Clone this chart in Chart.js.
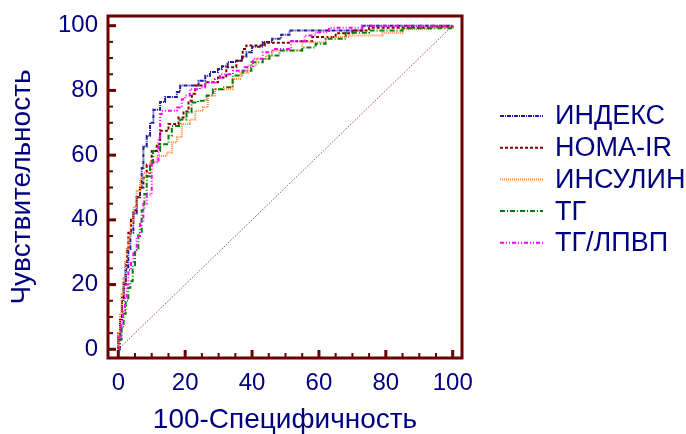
<!DOCTYPE html>
<html>
<head>
<meta charset="utf-8">
<script src="https://cdn.jsdelivr.net/npm/chart.js@4.4.0/dist/chart.umd.min.js"></script>
<style>
  html, body { margin: 0; padding: 0; background: #fff; }
  #wrap { width: 686px; height: 434px; }
</style>
</head>
<body>
<div id="wrap"><canvas id="rocChart" width="686" height="434"></canvas></div>
<script>
// ROC curves: 100-specificity (x) vs sensitivity (y)
const seriesLabels = ['ИНДЕКС', 'HOMA-IR', 'ИНСУЛИН', 'ТГ', 'ТГ/ЛПВП'];

const indexFpr = [0, 0, 0.6, 1.1, 1.6, 2.2, 3, 3.6, 4.5, 5.5, 6.5, 7, 7.5, 8.5, 9.5, 10.5, 12.5, 14, 17.5, 18.5, 24, 26, 27.4, 29.8, 31, 32.7, 35.3, 37, 38.3, 40, 43.2, 46, 48.7, 51.2, 73, 100];
const indexTpr = [0, 4, 9, 15, 20, 25, 31, 36, 42, 47, 50, 56, 62.7, 66, 70, 74, 76.4, 78, 79.5, 81.5, 83, 84.5, 85.7, 86.6, 87.5, 88.8, 89.2, 90.5, 91.8, 93.5, 95, 96, 97.2, 98.5, 100, 100];

const homaFpr = [0, 0, 0.5, 1.1, 1.6, 2.2, 2.6, 3, 3.8, 4.5, 5.5, 6.5, 7.5, 8.5, 10, 11.5, 12.5, 15, 18, 19.5, 21, 22, 23, 26, 29.8, 32.3, 35.3, 37.2, 38.3, 43.8, 51.7, 58, 65, 70, 75, 93.4, 100];
const homaTpr = [0, 5, 10, 16, 21, 26, 30.7, 36, 40, 43, 47, 50, 53, 57, 61.3, 63.4, 67.5, 69.6, 71.6, 73.5, 76.8, 79, 81.5, 82.5, 84, 87.2, 89.2, 92.8, 93.9, 94.7, 95.2, 96.5, 97.7, 98.5, 99.4, 99.7, 100];

const insulinFpr = [0, 0, 0.5, 1, 1.5, 2, 2.5, 3, 3.6, 4.5, 5.5, 6.5, 7.5, 9.5, 11.5, 14.5, 16, 17.5, 19, 21.4, 23, 25.3, 26.8, 28.9, 34.2, 36.5, 38.7, 41.3, 44.2, 46.1, 55, 62, 69, 79, 85, 93.4, 100];
const insulinTpr = [0, 5, 11, 17, 22, 27, 31, 35, 39, 44, 49, 52.5, 54.5, 58, 59.7, 60.8, 64, 65.5, 69.6, 71, 73.7, 74.8, 78.4, 80.4, 83.5, 85.5, 87.7, 89.8, 90.8, 92.3, 94.9, 96.5, 97, 97.8, 99, 99.4, 100];

const tgFpr = [0, 0.5, 1, 1.6, 2.2, 3, 3.6, 4.3, 5, 6, 7, 7.8, 8.5, 9.5, 10.4, 12.5, 15, 16, 18.5, 20.4, 21.9, 23.8, 26.4, 28.3, 31.3, 34.2, 37.2, 39.8, 43.2, 45.2, 48.2, 55, 59, 62, 68, 75, 85, 100];
const tgTpr = [0, 3, 7, 11, 15, 19, 21, 26, 30.7, 36, 43, 48, 53.5, 57, 61.3, 63.4, 66, 69, 71, 73.2, 76.3, 76.8, 78.4, 80.4, 81, 84.6, 86.1, 88.7, 89.8, 90.8, 92.3, 93.3, 94.4, 96, 97.8, 98.5, 99.2, 100];

const tgHdlFpr = [0, 0.4, 0.9, 1.4, 2, 2.5, 3, 3.8, 4.5, 5.5, 6.5, 7.5, 8.5, 10, 12, 12.5, 13, 17.5, 19, 20, 21.4, 24.4, 25.9, 28.9, 30.4, 34.3, 37.8, 40.3, 43.2, 46.2, 51.7, 55.7, 59, 63, 73, 100];
const tgHdlTpr = [0, 4, 8, 12, 16, 20, 24.5, 27, 30, 35, 39.5, 45, 47.8, 57.7, 65.4, 72.7, 73.7, 74.7, 77.3, 78.4, 80.4, 80.9, 82.5, 83.5, 85, 86.1, 87.2, 89.8, 91.8, 92.8, 95.2, 97, 98, 99.4, 100, 100];

const chanceLine = [0, 100];
const tickValues = [0, 20, 40, 60, 80, 100];

const navy = '#000080';
const frameColor = '#6b0000';
const font = 'Liberation Sans, Arial, sans-serif';

function toPoints(xs, ys) {
    return xs.map((x, i) => ({ x: x, y: ys[i] }));
}

function rocSet(label, xs, ys, color, dash) {
    return {
        label: label,
        data: toPoints(xs, ys),
        borderColor: color,
        borderWidth: 2,
        borderDash: dash,
        stepped: true,
        pointRadius: 0,
        fill: false
    };
}

const datasets = [
    {
        label: '',
        data: toPoints(chanceLine, chanceLine),
        borderColor: '#902828',
        borderWidth: 1,
        borderDash: [1, 1.5],
        pointRadius: 0,
        fill: false
    },
    rocSet(seriesLabels[4], tgHdlFpr, tgHdlTpr, '#ff00ff', [4, 2, 1, 2, 1, 2]),
    rocSet(seriesLabels[3], tgFpr, tgTpr, '#008000', [5, 2, 1, 2]),
    rocSet(seriesLabels[2], insulinFpr, insulinTpr, '#ff8c40', [1, 1]),
    rocSet(seriesLabels[1], homaFpr, homaTpr, '#800000', [3, 2]),
    rocSet(seriesLabels[0], indexFpr, indexTpr, '#1c1c9c', [4, 1, 1, 1])
];

// frame with inward ticks, plus the legend at the right
const framePlugin = {
    id: 'frame',
    afterDatasetsDraw(chart) {
        const { ctx, chartArea: a, scales: { x, y } } = chart;
        ctx.save();
        ctx.strokeStyle = frameColor;
        for (let v = 0; v <= 100; v += 5) {
            const major = v % 20 === 0;
            const len = major ? 8 : 5;
            ctx.lineWidth = major ? 3 : 2;
            const py = y.getPixelForValue(v);
            ctx.beginPath();
            ctx.moveTo(a.left, py);
            ctx.lineTo(a.left + len, py);
            ctx.stroke();
            const px = x.getPixelForValue(v);
            ctx.beginPath();
            ctx.moveTo(px, a.bottom);
            ctx.lineTo(px, a.bottom - len);
            ctx.stroke();
        }
        ctx.lineWidth = 3;
        ctx.strokeRect(a.left, a.top, a.right - a.left, a.bottom - a.top);

        // legend
        ctx.font = '27px ' + font;
        ctx.textBaseline = 'middle';
        ctx.textAlign = 'left';
        seriesLabels.forEach((label, i) => {
            const ds = chart.data.datasets.find(d => d.label === label);
            const rowY = 116 + i * 31.7;
            ctx.strokeStyle = ds.borderColor;
            ctx.lineWidth = 2;
            ctx.setLineDash(ds.borderDash);
            ctx.beginPath();
            ctx.moveTo(500, rowY);
            ctx.lineTo(543, rowY);
            ctx.stroke();
            ctx.setLineDash([]);
            ctx.fillStyle = navy;
            ctx.fillText(label, 555, rowY + 1);
        });
        ctx.restore();
    }
};

const ctx = document.getElementById('rocChart').getContext('2d');
new Chart(ctx, {
    type: 'scatter',
    data: { datasets: datasets },
    options: {
        responsive: false,
        animation: false,
        showLine: true,
        layout: { padding: { top: 16, right: 224, bottom: 0, left: 0 } },
        plugins: {
            legend: { display: false },
            tooltip: { enabled: false }
        },
        scales: {
            x: {
                type: 'linear',
                min: -3.08,
                max: 102.78,
                afterBuildTicks: (scale) => { scale.ticks = tickValues.map(v => ({ value: v })); },
                afterFit: (scale) => {
                    scale.height = 76;
                    scale.paddingLeft = 0;
                    scale.paddingRight = 0;
                },
                grid: { display: false, drawTicks: false },
                border: { display: false },
                ticks: {
                    color: navy,
                    padding: 13,
                    maxRotation: 0,
                    font: { family: font, size: 24, lineHeight: 1 }
                },
                title: {
                    display: true,
                    text: '100-Специфичность',
                    color: navy,
                    padding: { top: 0, bottom: 0 },
                    font: { family: font, size: 28, lineHeight: 1 }
                }
            },
            y: {
                type: 'linear',
                min: -2.69,
                max: 103.0,
                afterBuildTicks: (scale) => { scale.ticks = tickValues.map(v => ({ value: v })); },
                afterFit: (scale) => {
                    scale.width = 108;
                    scale.paddingTop = 0;
                    scale.paddingBottom = 0;
                },
                grid: { display: false, drawTicks: false },
                border: { display: false },
                ticks: {
                    color: navy,
                    padding: 10,
                    font: { family: font, size: 24, lineHeight: 1 }
                },
                title: {
                    display: true,
                    text: 'Чувствительность',
                    color: navy,
                    padding: { top: 8, bottom: 0 },
                    font: { family: font, size: 28, lineHeight: 1 }
                }
            }
        }
    },
    plugins: [framePlugin]
});
</script>
</body>
</html>
